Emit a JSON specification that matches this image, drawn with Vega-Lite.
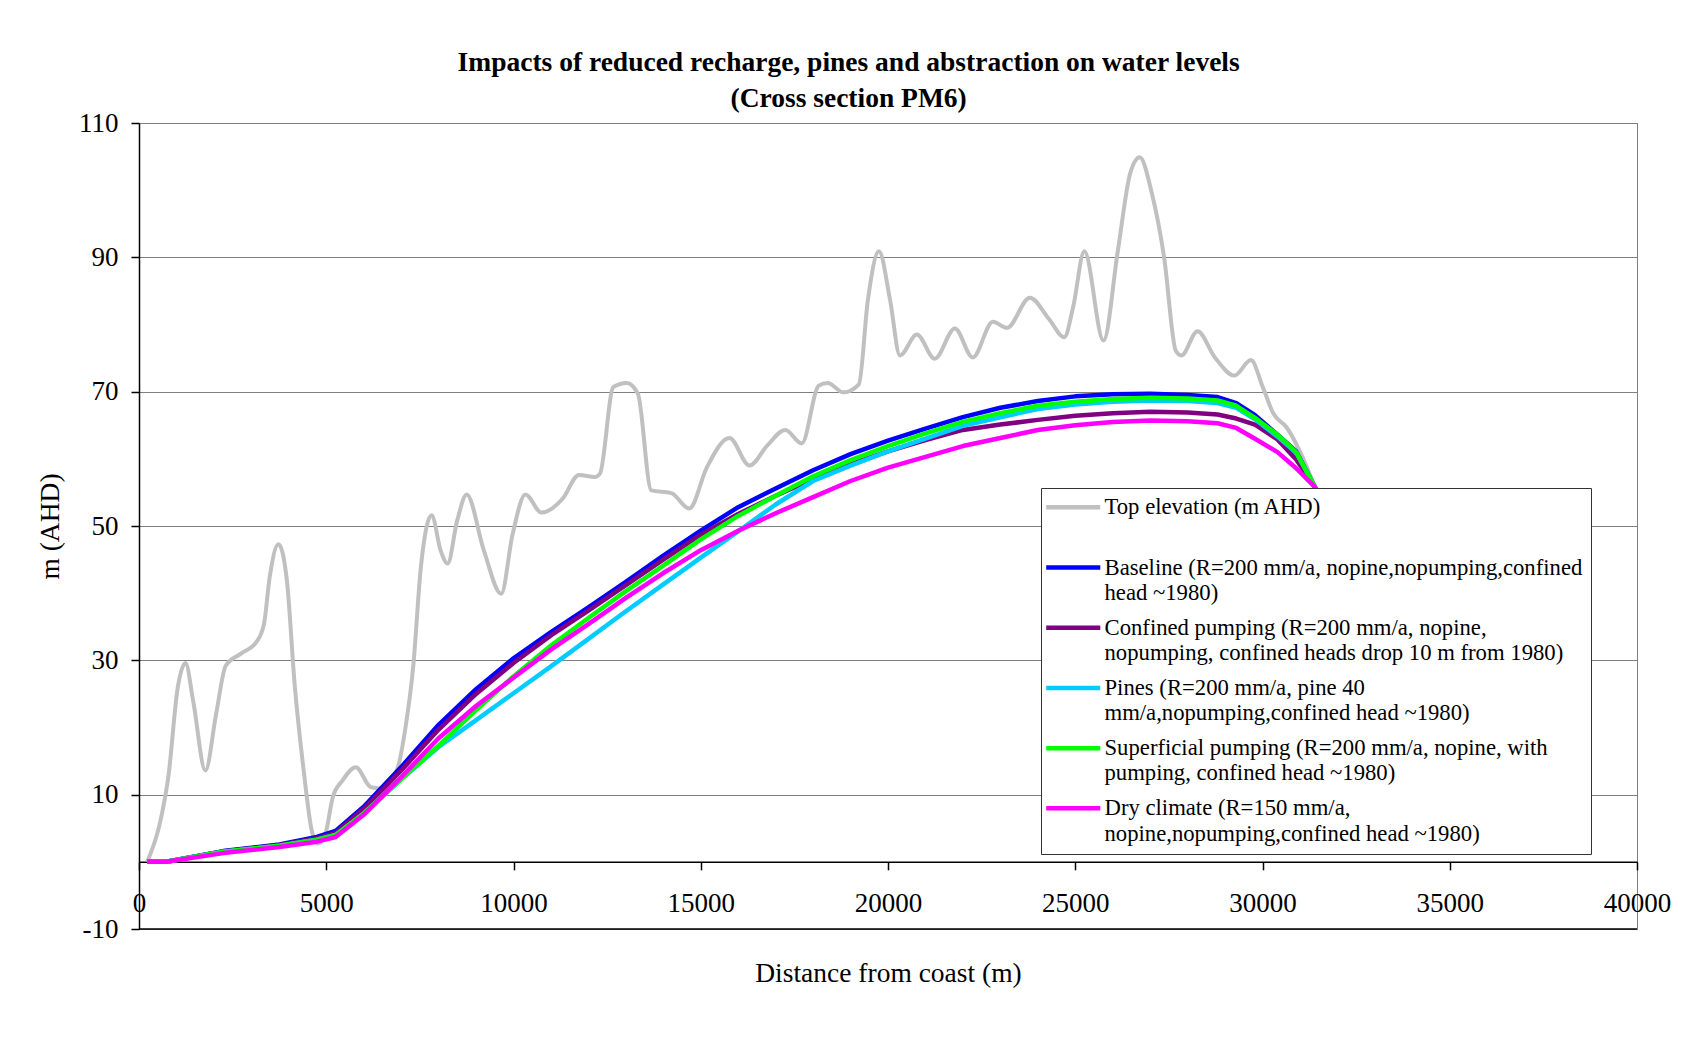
{
  "$schema": "https://vega.github.io/schema/vega-lite/v6.json",
  "width": 1498,
  "height": 806,
  "autosize": {"type": "none"},
  "padding": {"left": 139, "top": 123, "right": 44, "bottom": 108},
  "background": "white",
  "title": {
    "text": ["Impacts of reduced recharge, pines and abstraction on water levels", "(Cross section PM6)"],
    "font": "Liberation Serif",
    "fontSize": 27.5,
    "fontWeight": "bold",
    "color": "black",
    "lineHeight": 35.5,
    "anchor": "middle",
    "frame": "bounds",
    "offset": -3,
    "dx": -5
  },
  "config": {
    "view": {"stroke": "#7f7f7f", "strokeWidth": 1},
    "font": "Liberation Serif"
  },
  "datasets": {
    "profile": [
      {"s": "top", "x": 219, "y": 0}, {"s": "top", "x": 628, "y": 7.6}, {"s": "top", "x": 782, "y": 12.6},
      {"s": "top", "x": 1036, "y": 26.0}, {"s": "top", "x": 1242, "y": 29.6}, {"s": "top", "x": 1445, "y": 24.0},
      {"s": "top", "x": 1773, "y": 13.6}, {"s": "top", "x": 2059, "y": 22.0}, {"s": "top", "x": 2316, "y": 29.2},
      {"s": "top", "x": 2723, "y": 31.0}, {"s": "top", "x": 3132, "y": 32.7}, {"s": "top", "x": 3337, "y": 35.4},
      {"s": "top", "x": 3490, "y": 42.4}, {"s": "top", "x": 3725, "y": 47.3}, {"s": "top", "x": 3949, "y": 41.9},
      {"s": "top", "x": 4155, "y": 26.5}, {"s": "top", "x": 4408, "y": 13.1}, {"s": "top", "x": 4614, "y": 4.6},
      {"s": "top", "x": 4766, "y": 2.7}, {"s": "top", "x": 4972, "y": 4.1}, {"s": "top", "x": 5174, "y": 9.6},
      {"s": "top", "x": 5431, "y": 12.1}, {"s": "top", "x": 5789, "y": 14.1}, {"s": "top", "x": 6197, "y": 11.1},
      {"s": "top", "x": 6555, "y": 10.9}, {"s": "top", "x": 6913, "y": 14.1}, {"s": "top", "x": 7116, "y": 20.0},
      {"s": "top", "x": 7321, "y": 29.0}, {"s": "top", "x": 7527, "y": 43.9}, {"s": "top", "x": 7813, "y": 51.6},
      {"s": "top", "x": 8058, "y": 46.3}, {"s": "top", "x": 8240, "y": 44.4}, {"s": "top", "x": 8496, "y": 50.8},
      {"s": "top", "x": 8750, "y": 54.7}, {"s": "top", "x": 9212, "y": 46.3}, {"s": "top", "x": 9671, "y": 39.9},
      {"s": "top", "x": 9977, "y": 48.8}, {"s": "top", "x": 10318, "y": 54.7}, {"s": "top", "x": 10747, "y": 52.0},
      {"s": "top", "x": 11317, "y": 54.1}, {"s": "top", "x": 11746, "y": 57.6}, {"s": "top", "x": 12175, "y": 57.3},
      {"s": "top", "x": 12309, "y": 57.8}, {"s": "top", "x": 12667, "y": 70.7}, {"s": "top", "x": 13025, "y": 71.3},
      {"s": "top", "x": 13321, "y": 69.7}, {"s": "top", "x": 13679, "y": 55.3}, {"s": "top", "x": 14215, "y": 54.9},
      {"s": "top", "x": 14693, "y": 52.6}, {"s": "top", "x": 15169, "y": 58.8}, {"s": "top", "x": 15767, "y": 63.1},
      {"s": "top", "x": 16304, "y": 59.0}, {"s": "top", "x": 16780, "y": 62.0}, {"s": "top", "x": 17257, "y": 64.3},
      {"s": "top", "x": 17698, "y": 62.3}, {"s": "top", "x": 18151, "y": 70.9}, {"s": "top", "x": 18389, "y": 71.3},
      {"s": "top", "x": 18806, "y": 69.9}, {"s": "top", "x": 19222, "y": 71.1}, {"s": "top", "x": 19462, "y": 83.6},
      {"s": "top", "x": 19758, "y": 90.9}, {"s": "top", "x": 20057, "y": 83.6}, {"s": "top", "x": 20318, "y": 75.4},
      {"s": "top", "x": 20772, "y": 78.5}, {"s": "top", "x": 21248, "y": 74.9}, {"s": "top", "x": 21785, "y": 79.4},
      {"s": "top", "x": 22263, "y": 75.1}, {"s": "top", "x": 22800, "y": 80.4}, {"s": "top", "x": 23179, "y": 79.5},
      {"s": "top", "x": 23788, "y": 84.0}, {"s": "top", "x": 24289, "y": 80.9}, {"s": "top", "x": 24706, "y": 78.1},
      {"s": "top", "x": 24944, "y": 82.6}, {"s": "top", "x": 25243, "y": 90.9}, {"s": "top", "x": 25755, "y": 77.6},
      {"s": "top", "x": 26138, "y": 91.0}, {"s": "top", "x": 26467, "y": 102.5}, {"s": "top", "x": 26721, "y": 104.9},
      {"s": "top", "x": 27047, "y": 99.5}, {"s": "top", "x": 27373, "y": 90.0}, {"s": "top", "x": 27685, "y": 76.1},
      {"s": "top", "x": 27835, "y": 75.4}, {"s": "top", "x": 28265, "y": 79.0}, {"s": "top", "x": 28729, "y": 75.1},
      {"s": "top", "x": 29250, "y": 72.4}, {"s": "top", "x": 29691, "y": 74.7}, {"s": "top", "x": 30006, "y": 70.7},
      {"s": "top", "x": 30295, "y": 66.7}, {"s": "top", "x": 30642, "y": 64.7}, {"s": "top", "x": 30991, "y": 61.2},
      {"s": "top", "x": 31397, "y": 55.8}, {"s": "top", "x": 31700, "y": 51.0},

      {"s": "base", "x": 219, "y": 0}, {"s": "base", "x": 731, "y": 0}, {"s": "base", "x": 2250, "y": 1.6},
      {"s": "base", "x": 3750, "y": 2.6}, {"s": "base", "x": 4750, "y": 3.7}, {"s": "base", "x": 5250, "y": 4.6},
      {"s": "base", "x": 6000, "y": 8.2}, {"s": "base", "x": 7000, "y": 14.1}, {"s": "base", "x": 8000, "y": 20.4},
      {"s": "base", "x": 9000, "y": 25.7}, {"s": "base", "x": 10000, "y": 30.3}, {"s": "base", "x": 11000, "y": 34.2},
      {"s": "base", "x": 12000, "y": 37.9}, {"s": "base", "x": 13000, "y": 41.7}, {"s": "base", "x": 14000, "y": 45.6},
      {"s": "base", "x": 15000, "y": 49.3}, {"s": "base", "x": 16000, "y": 52.8}, {"s": "base", "x": 17000, "y": 55.6},
      {"s": "base", "x": 18000, "y": 58.3}, {"s": "base", "x": 19000, "y": 60.7}, {"s": "base", "x": 20000, "y": 62.7},
      {"s": "base", "x": 21000, "y": 64.5}, {"s": "base", "x": 22000, "y": 66.2}, {"s": "base", "x": 23000, "y": 67.6},
      {"s": "base", "x": 24000, "y": 68.6}, {"s": "base", "x": 25000, "y": 69.3}, {"s": "base", "x": 26000, "y": 69.6},
      {"s": "base", "x": 27000, "y": 69.7}, {"s": "base", "x": 28000, "y": 69.5}, {"s": "base", "x": 28800, "y": 69.2},
      {"s": "base", "x": 29300, "y": 68.3}, {"s": "base", "x": 29800, "y": 66.5}, {"s": "base", "x": 30400, "y": 63.6},
      {"s": "base", "x": 30900, "y": 61.1}, {"s": "base", "x": 31400, "y": 55.8}, {"s": "base", "x": 31700, "y": 52.0},

      {"s": "conf", "x": 219, "y": 0}, {"s": "conf", "x": 731, "y": 0}, {"s": "conf", "x": 2250, "y": 1.55},
      {"s": "conf", "x": 3750, "y": 2.5}, {"s": "conf", "x": 4750, "y": 3.5}, {"s": "conf", "x": 5250, "y": 4.3},
      {"s": "conf", "x": 6000, "y": 7.9}, {"s": "conf", "x": 7000, "y": 13.6}, {"s": "conf", "x": 8000, "y": 19.7},
      {"s": "conf", "x": 9000, "y": 25.0}, {"s": "conf", "x": 10000, "y": 29.6}, {"s": "conf", "x": 11000, "y": 33.7},
      {"s": "conf", "x": 12000, "y": 37.4}, {"s": "conf", "x": 13000, "y": 41.2}, {"s": "conf", "x": 14000, "y": 45.0},
      {"s": "conf", "x": 15000, "y": 48.7}, {"s": "conf", "x": 16000, "y": 51.8}, {"s": "conf", "x": 17000, "y": 54.5},
      {"s": "conf", "x": 18000, "y": 57.0}, {"s": "conf", "x": 19000, "y": 59.2}, {"s": "conf", "x": 20000, "y": 61.1},
      {"s": "conf", "x": 21000, "y": 62.8}, {"s": "conf", "x": 22000, "y": 64.3}, {"s": "conf", "x": 23000, "y": 65.1},
      {"s": "conf", "x": 24000, "y": 65.8}, {"s": "conf", "x": 25000, "y": 66.4}, {"s": "conf", "x": 26000, "y": 66.8},
      {"s": "conf", "x": 27000, "y": 67.0}, {"s": "conf", "x": 28000, "y": 66.9}, {"s": "conf", "x": 28800, "y": 66.6},
      {"s": "conf", "x": 29300, "y": 66.0}, {"s": "conf", "x": 29800, "y": 65.1}, {"s": "conf", "x": 30400, "y": 62.9},
      {"s": "conf", "x": 30900, "y": 59.9}, {"s": "conf", "x": 31400, "y": 55.8}, {"s": "conf", "x": 31700, "y": 52.0},

      {"s": "pines", "x": 219, "y": 0}, {"s": "pines", "x": 731, "y": 0}, {"s": "pines", "x": 2250, "y": 1.5},
      {"s": "pines", "x": 3750, "y": 2.4}, {"s": "pines", "x": 4750, "y": 3.3}, {"s": "pines", "x": 5250, "y": 4.0},
      {"s": "pines", "x": 6000, "y": 7.2}, {"s": "pines", "x": 7000, "y": 12.3}, {"s": "pines", "x": 8000, "y": 17.1},
      {"s": "pines", "x": 9000, "y": 21.1}, {"s": "pines", "x": 10000, "y": 25.1}, {"s": "pines", "x": 11000, "y": 29.1},
      {"s": "pines", "x": 12000, "y": 33.2}, {"s": "pines", "x": 13000, "y": 37.3}, {"s": "pines", "x": 14000, "y": 41.3},
      {"s": "pines", "x": 15000, "y": 45.3}, {"s": "pines", "x": 16000, "y": 49.2}, {"s": "pines", "x": 17000, "y": 53.2},
      {"s": "pines", "x": 18000, "y": 56.7}, {"s": "pines", "x": 19000, "y": 59.0}, {"s": "pines", "x": 20000, "y": 61.1},
      {"s": "pines", "x": 21000, "y": 63.0}, {"s": "pines", "x": 22000, "y": 64.9}, {"s": "pines", "x": 23000, "y": 66.2},
      {"s": "pines", "x": 24000, "y": 67.4}, {"s": "pines", "x": 25000, "y": 68.1}, {"s": "pines", "x": 26000, "y": 68.5},
      {"s": "pines", "x": 27000, "y": 68.7}, {"s": "pines", "x": 28000, "y": 68.6}, {"s": "pines", "x": 28800, "y": 68.3},
      {"s": "pines", "x": 29300, "y": 67.6}, {"s": "pines", "x": 29800, "y": 65.9}, {"s": "pines", "x": 30400, "y": 63.3},
      {"s": "pines", "x": 30900, "y": 60.9}, {"s": "pines", "x": 31400, "y": 55.8}, {"s": "pines", "x": 31700, "y": 52.0},

      {"s": "sup", "x": 219, "y": 0}, {"s": "sup", "x": 731, "y": 0}, {"s": "sup", "x": 2250, "y": 1.5},
      {"s": "sup", "x": 3750, "y": 2.4}, {"s": "sup", "x": 4750, "y": 3.3}, {"s": "sup", "x": 5250, "y": 4.0},
      {"s": "sup", "x": 6000, "y": 7.2}, {"s": "sup", "x": 7000, "y": 12.3}, {"s": "sup", "x": 8000, "y": 17.3},
      {"s": "sup", "x": 9000, "y": 22.6}, {"s": "sup", "x": 10000, "y": 27.6}, {"s": "sup", "x": 11000, "y": 32.2},
      {"s": "sup", "x": 12000, "y": 36.3}, {"s": "sup", "x": 13000, "y": 40.3}, {"s": "sup", "x": 14000, "y": 44.1},
      {"s": "sup", "x": 15000, "y": 48.0}, {"s": "sup", "x": 16000, "y": 51.5}, {"s": "sup", "x": 17000, "y": 54.5},
      {"s": "sup", "x": 18000, "y": 57.4}, {"s": "sup", "x": 19000, "y": 59.8}, {"s": "sup", "x": 20000, "y": 61.9},
      {"s": "sup", "x": 21000, "y": 63.8}, {"s": "sup", "x": 22000, "y": 65.5}, {"s": "sup", "x": 23000, "y": 66.8},
      {"s": "sup", "x": 24000, "y": 67.9}, {"s": "sup", "x": 25000, "y": 68.5}, {"s": "sup", "x": 26000, "y": 68.9},
      {"s": "sup", "x": 27000, "y": 69.1}, {"s": "sup", "x": 28000, "y": 69.0}, {"s": "sup", "x": 28800, "y": 68.7},
      {"s": "sup", "x": 29300, "y": 67.9}, {"s": "sup", "x": 29800, "y": 66.1}, {"s": "sup", "x": 30400, "y": 63.6},
      {"s": "sup", "x": 30900, "y": 61.0}, {"s": "sup", "x": 31400, "y": 55.8}, {"s": "sup", "x": 31700, "y": 52.0},

      {"s": "dry", "x": 219, "y": 0}, {"s": "dry", "x": 731, "y": 0}, {"s": "dry", "x": 2250, "y": 1.3},
      {"s": "dry", "x": 3750, "y": 2.2}, {"s": "dry", "x": 4750, "y": 3.0}, {"s": "dry", "x": 5250, "y": 3.7},
      {"s": "dry", "x": 6000, "y": 7.0}, {"s": "dry", "x": 7000, "y": 12.6}, {"s": "dry", "x": 8000, "y": 18.4},
      {"s": "dry", "x": 9000, "y": 23.2}, {"s": "dry", "x": 10000, "y": 27.4}, {"s": "dry", "x": 11000, "y": 31.6},
      {"s": "dry", "x": 12000, "y": 35.4}, {"s": "dry", "x": 13000, "y": 39.3}, {"s": "dry", "x": 14000, "y": 43.0},
      {"s": "dry", "x": 15000, "y": 46.4}, {"s": "dry", "x": 16000, "y": 49.3}, {"s": "dry", "x": 17000, "y": 51.9},
      {"s": "dry", "x": 18000, "y": 54.3}, {"s": "dry", "x": 19000, "y": 56.7}, {"s": "dry", "x": 20000, "y": 58.7},
      {"s": "dry", "x": 21000, "y": 60.3}, {"s": "dry", "x": 22000, "y": 61.9}, {"s": "dry", "x": 23000, "y": 63.1},
      {"s": "dry", "x": 24000, "y": 64.3}, {"s": "dry", "x": 25000, "y": 65.0}, {"s": "dry", "x": 26000, "y": 65.5},
      {"s": "dry", "x": 27000, "y": 65.7}, {"s": "dry", "x": 28000, "y": 65.6}, {"s": "dry", "x": 28800, "y": 65.3},
      {"s": "dry", "x": 29300, "y": 64.6}, {"s": "dry", "x": 29800, "y": 63.0}, {"s": "dry", "x": 30400, "y": 61.0},
      {"s": "dry", "x": 30900, "y": 58.6}, {"s": "dry", "x": 31400, "y": 55.8}, {"s": "dry", "x": 31700, "y": 52.0}
    ]
  },
  "data": {"name": "profile"},
  "layer": [
    {
      "transform": [{"filter": "datum.s == 'top'"}],
      "mark": {"type": "line", "interpolate": "monotone", "strokeWidth": 4, "strokeJoin": "round"},
      "encoding": {
        "x": {
          "field": "x", "type": "quantitative",
          "scale": {"domain": [0, 40000], "nice": false, "zero": false},
          "axis": {
            "values": [0, 5000, 10000, 15000, 20000, 25000, 30000, 35000, 40000],
            "format": "d", "offset": -67.17, "grid": false,
            "tickSize": 8, "tickColor": "black", "tickWidth": 1.5,
            "domainColor": "black", "domainWidth": 1.5,
            "labelFont": "Liberation Serif", "labelFontSize": 27, "labelColor": "black",
            "labelPadding": 21, "labelFlush": false, "labelOverlap": false,
            "title": "Distance from coast (m)", "titleFont": "Liberation Serif", "titleFontSize": 27.5,
            "titleFontWeight": "normal", "titleColor": "black", "titlePadding": 43
          }
        },
        "y": {
          "field": "y", "type": "quantitative",
          "scale": {"domain": [-10, 110], "nice": false, "zero": false},
          "axis": {
            "values": [-10, 10, 30, 50, 70, 90, 110],
            "labelExpr": "'' + datum.value",
            "grid": true, "gridColor": "#7f7f7f", "gridWidth": 1,
            "tickSize": 8, "tickColor": "black", "tickWidth": 1.5,
            "domainColor": "black", "domainWidth": 1.5,
            "labelFont": "Liberation Serif", "labelFontSize": 27, "labelColor": "black", "labelPadding": 13,
            "title": "m (AHD)", "titleFont": "Liberation Serif", "titleFontSize": 27.5,
            "titleFontWeight": "normal", "titleColor": "black", "titlePadding": 14
          }
        },
        "color": {
          "field": "s", "type": "nominal",
          "scale": {
            "domain": ["top", "base", "conf", "pines", "sup", "dry"],
            "range": ["#C0C0C0", "#0000FF", "#800080", "#00CCFF", "#00FF00", "#FF00FF"]
          },
          "legend": {
            "title": null, "orient": "none", "legendX": 902, "legendY": 365,
            "fillColor": "white", "strokeColor": "#333333", "padding": 8,
            "labelFont": "Liberation Serif", "labelFontSize": 22.7, "labelColor": "black",
            "labelLimit": 800, "labelOffset": 19.9, "rowPadding": 11.2,
            "symbolType": "M-5,0H5", "symbolSize": 117, "symbolStrokeWidth": 4.5, "symbolOffset": 12.9,
            "zindex": 1,
            "labelExpr": "datum.value == 'top' ? ['Top elevation (m AHD)', ' '] : datum.value == 'base' ? ['Baseline (R=200 mm/a, nopine,nopumping,confined', 'head ~1980)'] : datum.value == 'conf' ? ['Confined pumping (R=200 mm/a, nopine,', 'nopumping, confined heads drop 10 m from 1980)'] : datum.value == 'pines' ? ['Pines (R=200 mm/a, pine 40', 'mm/a,nopumping,confined head ~1980)'] : datum.value == 'sup' ? ['Superficial pumping (R=200 mm/a, nopine, with', 'pumping, confined head ~1980)'] : ['Dry climate (R=150 mm/a,', 'nopine,nopumping,confined head ~1980)']",
            "encode": {"labels": {"update": {"lineHeight": {"value": 25.3}}}}
          }
        }
      }
    },
    {
      "transform": [{"filter": "datum.s == 'base'"}],
      "mark": {"type": "line", "strokeWidth": 4.5, "strokeJoin": "round"},
      "encoding": {
        "x": {"field": "x", "type": "quantitative"},
        "y": {"field": "y", "type": "quantitative"},
        "color": {"field": "s", "type": "nominal"}
      }
    },
    {
      "transform": [{"filter": "datum.s == 'conf'"}],
      "mark": {"type": "line", "strokeWidth": 4.5, "strokeJoin": "round"},
      "encoding": {
        "x": {"field": "x", "type": "quantitative"},
        "y": {"field": "y", "type": "quantitative"},
        "color": {"field": "s", "type": "nominal"}
      }
    },
    {
      "transform": [{"filter": "datum.s == 'pines'"}],
      "mark": {"type": "line", "strokeWidth": 4.5, "strokeJoin": "round"},
      "encoding": {
        "x": {"field": "x", "type": "quantitative"},
        "y": {"field": "y", "type": "quantitative"},
        "color": {"field": "s", "type": "nominal"}
      }
    },
    {
      "transform": [{"filter": "datum.s == 'sup'"}],
      "mark": {"type": "line", "strokeWidth": 4.5, "strokeJoin": "round"},
      "encoding": {
        "x": {"field": "x", "type": "quantitative"},
        "y": {"field": "y", "type": "quantitative"},
        "color": {"field": "s", "type": "nominal"}
      }
    },
    {
      "transform": [{"filter": "datum.s == 'dry'"}],
      "mark": {"type": "line", "strokeWidth": 4.5, "strokeJoin": "round"},
      "encoding": {
        "x": {"field": "x", "type": "quantitative"},
        "y": {"field": "y", "type": "quantitative"},
        "color": {"field": "s", "type": "nominal"}
      }
    },
    {
      "data": {"values": [{}]},
      "mark": {"type": "rule", "color": "black", "strokeWidth": 1.5},
      "encoding": {"y": {"datum": -10}}
    }
  ]
}
